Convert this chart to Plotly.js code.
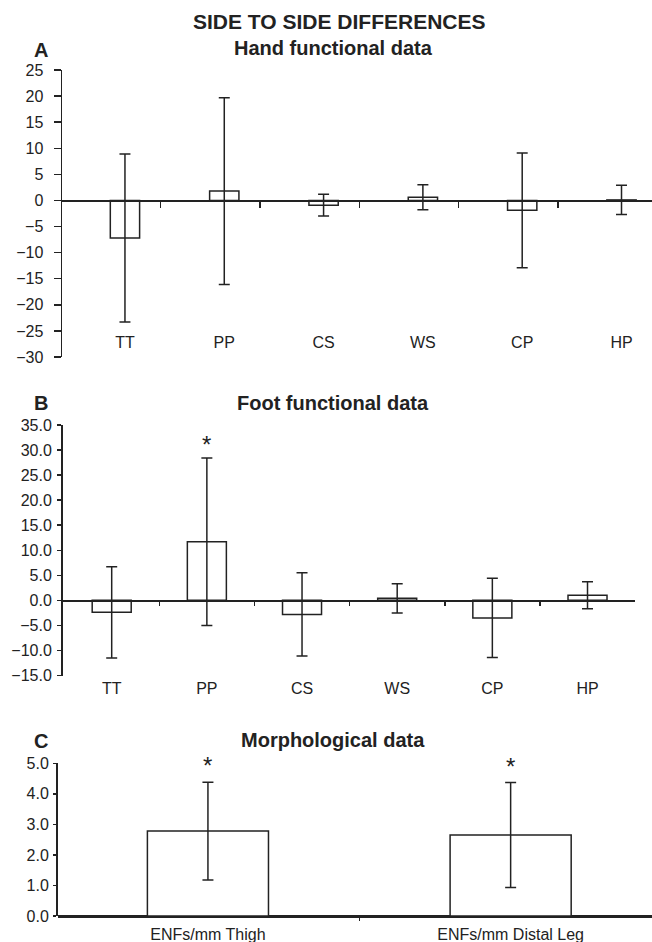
<!DOCTYPE html>
<html><head><meta charset="utf-8">
<script src="https://cdn.plot.ly/plotly-3.0.1.min.js"></script>
<style>html,body{margin:0;padding:0;background:#fff}</style>
</head><body><div id="chart" style="width:652px;height:942px"></div>
<script>
// ---------------- data ----------------
const mainTitle = "SIDE TO SIDE DIFFERENCES";
const panelLetters = ["A", "B", "C"];
const panelTitles = ["Hand functional data", "Foot functional data", "Morphological data"];

const functionalTests = ["TT", "PP", "CS", "WS", "CP", "HP"];
const handMean = [-7.2, 1.8, -0.9, 0.6, -1.9, 0.1];
const handSD   = [16.1, 17.9, 2.1, 2.4, 11.0, 2.8];
const handSignificant = [false, false, false, false, false, false];

const footMean = [-2.4, 11.7, -2.8, 0.4, -3.5, 1.0];
const footSD   = [9.1, 16.7, 8.3, 2.9, 7.9, 2.7];
const footSignificant = [false, true, false, false, false, false];

const morphCategories = ["ENFs/mm Thigh", "ENFs/mm Distal Leg"];
const morphMean = [2.78, 2.65];
const morphSD   = [1.6, 1.72];
const morphSignificant = [true, true];

// ---------------- layout/style ----------------
const W = 652, H = 942;
const px = v => v / W;
const py = v => 1 - v / H;
const INK = '#222';
const FONT = 'Liberation Sans, Arial, sans-serif';

const panels = [
  {cats: functionalTests, mean: handMean, sd: handSD, sig: handSignificant,
   xpx: [62, 652], ypx: [357, 70], xr: [-0.634, 5.307], yr: [-30, 25], dtick: 5, fmt: '',
   barw: 0.295, tickOff: 0.36, xTickLen: 6, yTickLen: 7, yStand: 7, labelPx: 331,
   letterY: 50, titleY: 48, starShift: 0, labelSize: 16},
  {cats: functionalTests, mean: footMean, sd: footSD, sig: footSignificant,
   xpx: [62.5, 635], ypx: [675.5, 425], xr: [-0.517, 5.499], yr: [-15, 35], dtick: 5, fmt: '.1f',
   barw: 0.41, tickOff: 0.5, xTickLen: 4, yTickLen: 4, yStand: 2, labelPx: 677,
   letterY: 403, titleY: 403, starShift: -2, labelSize: 16},
  {cats: morphCategories, mean: morphMean, sd: morphSD, sig: morphSignificant,
   xpx: [57.5, 652], ypx: [916, 763.3], xr: [-0.497, 1.467], yr: [0, 5], dtick: 1, fmt: '.1f',
   barw: 0.40, tickOff: 0.5, xTickLen: 3, yTickLen: 3, yStand: 1, labelPx: 923,
   letterY: 741, titleY: 740, starShift: 1, labelSize: 16}
];

const traces = [];
const layout = {
  width: W, height: H,
  margin: {l: 0, r: 0, t: 0, b: 0, pad: 0},
  paper_bgcolor: '#fff', plot_bgcolor: 'rgba(0,0,0,0)',
  showlegend: false,
  font: {family: FONT, color: INK},
  annotations: [
    {text: '<b>' + mainTitle + '</b>', xref: 'paper', yref: 'paper', x: px(339), y: py(22),
     xanchor: 'center', yanchor: 'middle', showarrow: false, font: {size: 21, family: FONT, color: INK}}
  ]
};

panels.forEach((p, i) => {
  const xm = 'x' + (2 * i + 1 === 1 ? '' : 2 * i + 1);
  const xt = 'x' + (2 * i + 2);
  const yn = 'y' + (i === 0 ? '' : i + 1);
  const xmKey = 'xaxis' + (2 * i + 1 === 1 ? '' : 2 * i + 1);
  const xtKey = 'xaxis' + (2 * i + 2);
  const ynKey = 'yaxis' + (i === 0 ? '' : i + 1);
  const xdom = [px(p.xpx[0]), px(p.xpx[1])];
  const ydom = [py(p.ypx[0]), py(p.ypx[1])];
  const zeroPos = ydom[0] + (0 - p.yr[0]) / (p.yr[1] - p.yr[0]) * (ydom[1] - ydom[0]);

  traces.push({
    type: 'bar', x: p.cats, y: p.mean, xaxis: xm, yaxis: yn, width: p.barw,
    marker: {color: '#fff', line: {color: INK, width: 1.5}},
    error_y: {type: 'data', array: p.sd, visible: true, color: INK, thickness: 1.5, width: 5.5},
    hoverinfo: 'skip'
  });
  // invisible companion trace so the category-boundary tick axis (at y = 0) is drawn
  traces.push({
    type: 'scatter', mode: 'none', x: p.cats.map((c, k) => k), y: p.mean,
    xaxis: xt, yaxis: yn, hoverinfo: 'skip', showlegend: false
  });

  layout[xmKey] = {
    type: 'category', domain: xdom, range: p.xr, anchor: 'free', position: py(p.labelPx),
    showline: false, ticks: '', showgrid: false, zeroline: false,
    tickfont: {size: p.labelSize, family: FONT, color: INK}, fixedrange: true
  };
  layout[xtKey] = {
    type: 'linear', domain: xdom, range: p.xr, anchor: 'free', position: zeroPos,
    overlaying: xm, showline: true, linecolor: INK, linewidth: 1.5,
    tickvals: p.cats.map((c, k) => k + p.tickOff), ticks: 'outside', ticklen: p.xTickLen,
    tickwidth: 1.5, tickcolor: INK, showticklabels: false, showgrid: false, zeroline: false,
    fixedrange: true
  };
  layout[ynKey] = {
    domain: ydom, range: p.yr, anchor: xm, dtick: p.dtick, tick0: 0, tickformat: p.fmt,
    showline: true, linecolor: INK, linewidth: 1.5, ticks: 'outside', ticklen: p.yTickLen,
    tickwidth: 1.5, tickcolor: INK, ticklabelstandoff: p.yStand, showgrid: false,
    zeroline: true, zerolinecolor: INK, zerolinewidth: 1.5,
    tickfont: {size: 16, family: FONT, color: INK}, fixedrange: true
  };

  layout.annotations.push(
    {text: '<b>' + panelLetters[i] + '</b>', xref: 'paper', yref: 'paper', x: px(41), y: py(p.letterY),
     xanchor: 'center', yanchor: 'middle', showarrow: false, font: {size: 20, family: FONT, color: INK}},
    {text: '<b>' + panelTitles[i] + '</b>', xref: 'paper', yref: 'paper', x: px(333), y: py(p.titleY),
     xanchor: 'center', yanchor: 'middle', showarrow: false, font: {size: 20, family: FONT, color: INK}}
  );
  p.sig.forEach((s, k) => {
    if (s) layout.annotations.push({
      text: '*', xref: xm, yref: yn, x: p.cats[k], y: p.mean[k] + p.sd[k],
      xanchor: 'center', yanchor: 'bottom', yshift: p.starShift, showarrow: false,
      font: {size: 24, family: FONT, color: INK}
    });
  });
});

Plotly.newPlot('chart', traces, layout, {displayModeBar: false, staticPlot: true});
</script>
</body></html>
